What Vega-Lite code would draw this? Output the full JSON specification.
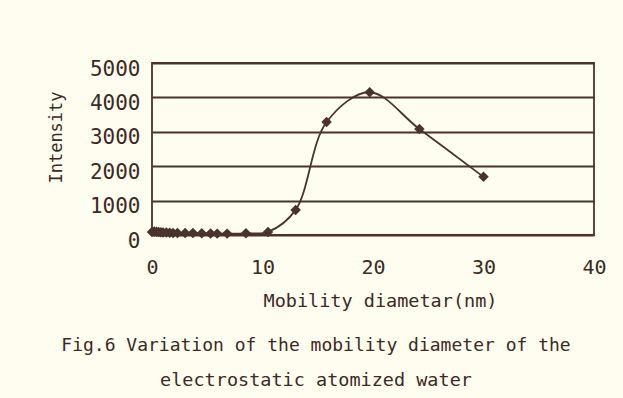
{
  "$schema": "https://vega.github.io/schema/vega-lite/v6.json",
  "autosize": {"type": "none"},
  "width": 442,
  "height": 172,
  "padding": {"left": 152, "top": 63, "right": 29, "bottom": 163},
  "background": "#fffdf0",
  "data": {
    "values": [
      {"d": 0.0, "i": 90},
      {"d": 0.2, "i": 100},
      {"d": 0.4, "i": 95},
      {"d": 0.6, "i": 85},
      {"d": 0.8, "i": 80},
      {"d": 1.0, "i": 75},
      {"d": 1.3, "i": 70},
      {"d": 1.6, "i": 65},
      {"d": 1.9, "i": 60},
      {"d": 2.3, "i": 60},
      {"d": 3.0, "i": 55},
      {"d": 3.7, "i": 55},
      {"d": 4.5, "i": 50},
      {"d": 5.3, "i": 45},
      {"d": 5.9, "i": 40},
      {"d": 6.8, "i": 40},
      {"d": 8.5, "i": 50},
      {"d": 10.5, "i": 90},
      {"d": 13.0, "i": 730},
      {"d": 15.8, "i": 3285},
      {"d": 19.7, "i": 4150},
      {"d": 24.2, "i": 3080},
      {"d": 30.0, "i": 1690}
    ]
  },
  "title": {
    "text": "Fig.6 Variation of the mobility diameter of the",
    "subtitle": "electrostatic atomized water",
    "orient": "bottom",
    "anchor": "middle",
    "dx": -57,
    "offset": 27,
    "font": "DejaVu Sans Mono",
    "fontSize": 18,
    "fontWeight": "normal",
    "color": "#3c2a24",
    "subtitleFont": "DejaVu Sans Mono",
    "subtitleFontSize": 18.5,
    "subtitleColor": "#3c2a24",
    "subtitlePadding": 16
  },
  "config": {
    "view": {"stroke": "#4a332c", "strokeWidth": 1.8},
    "axis": {
      "labelFont": "DejaVu Sans Mono",
      "titleFont": "DejaVu Sans Mono",
      "labelColor": "#3c2a24",
      "titleColor": "#3c2a24",
      "titleFontWeight": "normal",
      "domain": false,
      "ticks": false,
      "labelOverlap": false,
      "labelFlush": false
    }
  },
  "encoding": {
    "x": {
      "field": "d",
      "type": "quantitative",
      "scale": {"domain": [0, 40], "nice": false},
      "axis": {
        "values": [0, 10, 20, 30, 40],
        "format": "d",
        "grid": false,
        "labelFontSize": 20,
        "labelPadding": 22,
        "title": "Mobility diametar(nm)",
        "titleFontSize": 18.5,
        "titlePadding": 14,
        "titleX": 228
      }
    },
    "y": {
      "field": "i",
      "type": "quantitative",
      "scale": {"domain": [0, 5000], "nice": false},
      "axis": {
        "values": [0, 1000, 2000, 3000, 4000, 5000],
        "format": "d",
        "grid": true,
        "gridColor": "#4a332c",
        "gridWidth": 1.8,
        "gridOpacity": 1,
        "labelFontSize": 21,
        "labelPadding": 12,
        "labelOffset": 6,
        "title": "Intensity",
        "titleFontSize": 17,
        "titlePadding": 24,
        "titleY": 74
      }
    }
  },
  "layer": [
    {
      "mark": {"type": "line", "interpolate": "catmull-rom", "color": "#4a332c", "strokeWidth": 1.8}
    },
    {
      "mark": {"type": "point", "shape": "diamond", "filled": true, "color": "#4a332c", "opacity": 1, "size": 110}
    }
  ]
}
